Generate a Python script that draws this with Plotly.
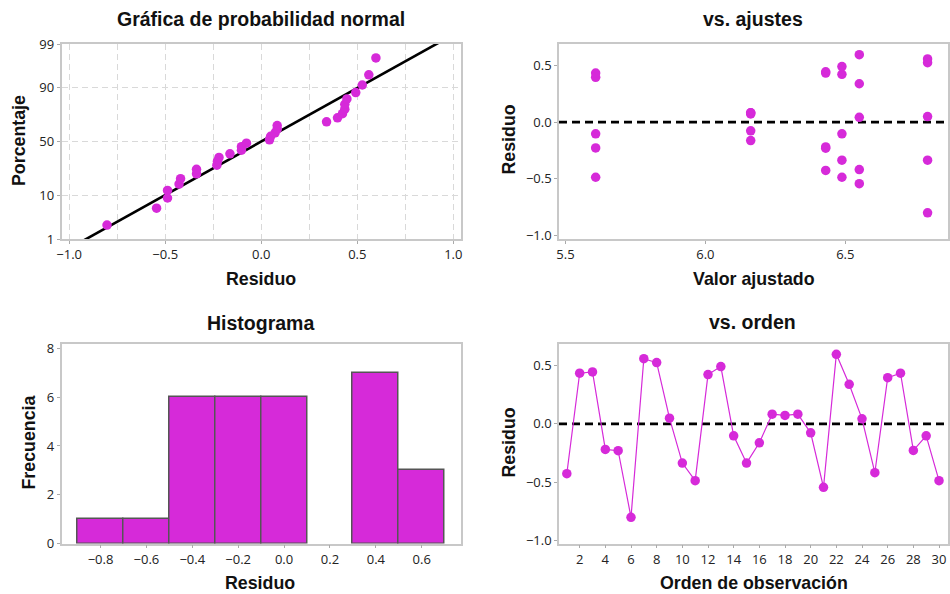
import numpy as np
import plotly.graph_objects as go
from statistics import NormalDist

# Residuals in observation order (one-way model, 6 levels x 5 runs)
order = list(range(1, 31))
residuals = [-0.428, 0.435, 0.446, -0.220, -0.231,
             -0.803, 0.560, 0.526, 0.049, -0.337,
             -0.488, 0.423, 0.492, -0.103, -0.337,
             -0.163, 0.083, 0.072, 0.083, -0.077,
             -0.545, 0.597, 0.340, 0.043, -0.420,
             0.397, 0.435, -0.228, -0.103, -0.488]
fitted = [6.430] * 5 + [6.794] * 5 + [6.488] * 5 + [6.162] * 5 + [6.550] * 5 + [5.608] * 5

pct_ticks = [1, 10, 50, 90, 99]
x_ticks_order = list(range(2, 31, 2))
hist_start, hist_end, hist_size = -0.9, 0.7, 0.2

MAG = "#D62AD9"
TICK_FONT = dict(family="Open Sans", size=13, color="#222")
BOLD = "Liberation Sans"

nd = NormalDist()
r = np.array(residuals)
n = len(r)
srt = np.sort(r)
probs = [(i - 0.3) / (n + 0.4) for i in range(1, n + 1)]
zq = [nd.inv_cdf(p) for p in probs]
mu, sd = r.mean(), r.std(ddof=1)
z_lo, z_hi = nd.inv_cdf(pct_ticks[0] / 100), nd.inv_cdf(pct_ticks[-1] / 100)
z_line = np.linspace(z_lo - 0.3, z_hi + 0.3, 50)

fig = go.Figure()

# Normal probability plot with fitted normal line
fig.add_trace(go.Scatter(x=mu + sd * z_line, y=z_line, mode="lines",
                         line=dict(color="black", width=2.6),
                         xaxis="x", yaxis="y", showlegend=False, hoverinfo="skip"))
fig.add_trace(go.Scatter(x=srt, y=zq, mode="markers",
                         marker=dict(color=MAG, size=9.5),
                         xaxis="x", yaxis="y", showlegend=False))

# Residuals vs fits
fig.add_trace(go.Scatter(x=fitted, y=residuals, mode="markers",
                         marker=dict(color=MAG, size=9.5),
                         xaxis="x2", yaxis="y2", showlegend=False))

# Histogram of residuals
fig.add_trace(go.Histogram(x=residuals,
                           xbins=dict(start=hist_start, end=hist_end, size=hist_size),
                           marker=dict(color=MAG, line=dict(color="#555555", width=1.5)),
                           xaxis="x3", yaxis="y3", showlegend=False))

# Residuals vs observation order
fig.add_trace(go.Scatter(x=order, y=residuals, mode="lines+markers",
                         line=dict(color=MAG, width=1.2),
                         marker=dict(color=MAG, size=9.5),
                         xaxis="x4", yaxis="y4", showlegend=False))

base = dict(showline=True, linecolor="#c8c8c8", linewidth=1.5, mirror=True,
            ticks="outside", ticklen=3, tickcolor="#aaa", tickfont=TICK_FONT,
            zeroline=False, showgrid=False, automargin=False)
grid = dict(showgrid=True, gridcolor="#d9d9d9", griddash="6px,4px", gridwidth=1)

dom_l = [61.5 / 950, 461 / 950]
dom_r = [559 / 950, 948 / 950]
dom_t = [1 - 239 / 594, 1 - 44 / 594]
dom_b = [1 - 543.5 / 594, 1 - 344 / 594]

fig.update_layout(
    width=950, height=594, autosize=False,
    margin=dict(l=0, r=0, t=0, b=0, pad=0, autoexpand=False),
    paper_bgcolor="white", plot_bgcolor="white", bargap=0, showlegend=False,
    xaxis=dict(base, **grid, domain=dom_l, anchor="y", range=[-1.04, 1.04],
               dtick=0.5, tickformat=".1f",
               minor=dict(dtick=0.25, showgrid=True, gridcolor="#d9d9d9",
                          griddash="6px,4px", ticks="")),
    yaxis=dict(base, **grid, domain=dom_t, anchor="x", range=[z_lo, z_hi],
               tickvals=[nd.inv_cdf(p / 100) for p in pct_ticks],
               ticktext=[str(p) for p in pct_ticks]),
    xaxis2=dict(base, domain=dom_r, anchor="y2", range=[5.477, 6.867],
                dtick=0.5, tickformat=".1f"),
    yaxis2=dict(base, domain=dom_t, anchor="x2", range=[-1.035, 0.692],
                dtick=0.5, tickformat=".1f"),
    xaxis3=dict(base, domain=dom_l, anchor="y3", range=[-0.97, 0.771],
                tickvals=[-0.8, -0.6, -0.4, -0.2, 0.0, 0.2, 0.4, 0.6], tickformat=".1f"),
    yaxis3=dict(base, domain=dom_b, anchor="x3", range=[0, 8.18], dtick=2),
    xaxis4=dict(base, domain=dom_r, anchor="y4", range=[0.39, 30.7],
                tickvals=x_ticks_order),
    yaxis4=dict(base, domain=dom_b, anchor="x4", range=[-1.028, 0.686],
                dtick=0.5, tickformat=".1f"),
    shapes=[
        dict(type="line", xref="x2 domain", x0=0, x1=1, yref="y2", y0=0, y1=0,
             line=dict(color="black", width=2.6, dash="8px,5px"), layer="below"),
        dict(type="line", xref="x4 domain", x0=0, x1=1, yref="y4", y0=0, y1=0,
             line=dict(color="black", width=2.6, dash="8px,5px"), layer="below"),
    ],
)

def label(text, x, y, size=17.8, angle=0):
    fig.add_annotation(text=f"<b>{text}</b>", x=x / 950, y=1 - y / 594,
                       xref="paper", yref="paper", showarrow=False,
                       textangle=angle, xanchor="center", yanchor="middle",
                       font=dict(family=BOLD, size=size, color="#111"))

# Panel titles
label("Gráfica de probabilidad normal", 261, 19, 19.5)
label("vs. ajustes", 753, 19, 19.5)
label("Histograma", 260, 323, 19.5)
label("vs. orden", 752, 322, 19.5)
# Axis titles
label("Residuo", 261, 279)
label("Porcentaje", 19, 141, angle=-90)
label("Valor ajustado", 754, 279)
label("Residuo", 508.5, 140, angle=-90)
label("Residuo", 260, 583)
label("Frecuencia", 28.5, 443, angle=-90)
label("Orden de observación", 753.5, 583)
label("Residuo", 508.5, 443, angle=-90)

fig.write_html("out.html")
